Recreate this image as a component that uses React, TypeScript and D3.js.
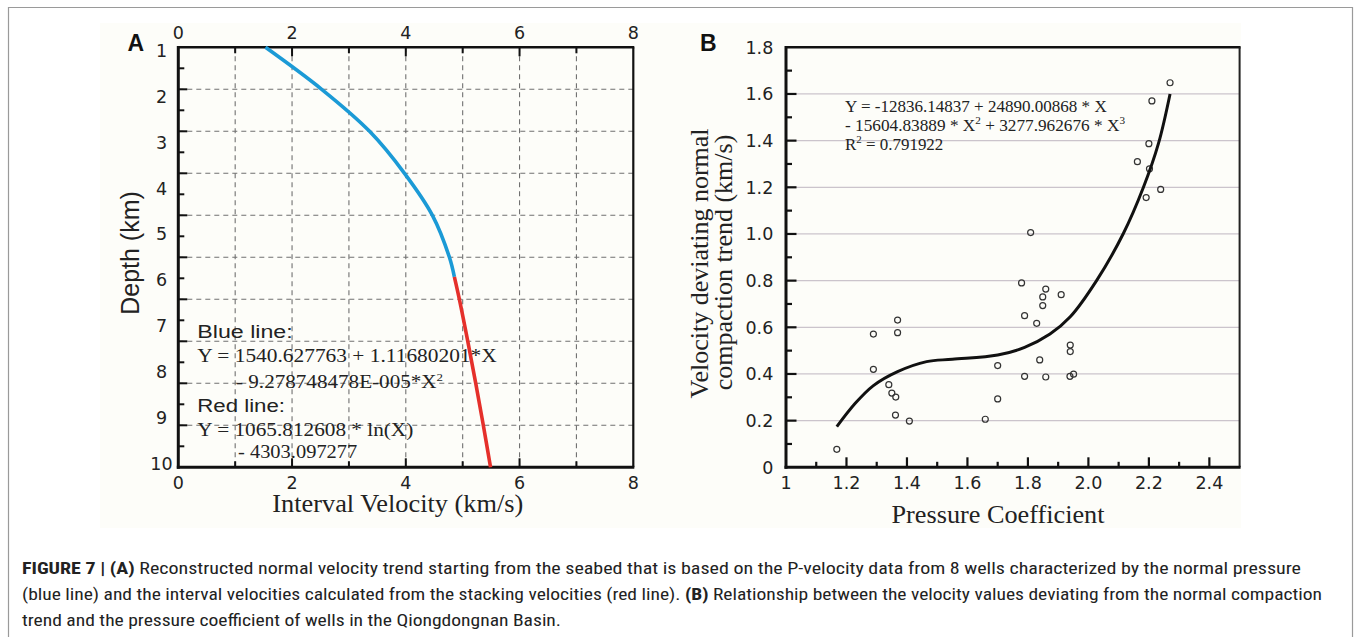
import React from "react";
import * as d3 from "d3";

const W = 1356;
const H = 637;

// ---------- Panel A data ----------
const velTickValues = [0, 2, 4, 6, 8];
const velGridValues = [1, 2, 3, 4, 5, 6, 7];
const depthTickValues = [1, 2, 3, 4, 5, 6, 7, 8, 9, 10];
const depthGridDivisions = [1, 2, 3, 4, 5, 6, 7, 8, 9];
const blueVelocity = [1.533, 2.521, 3.363, 3.977, 4.468, 4.767, 4.854];
const blueDepth = [1.0, 1.9, 2.8, 3.7, 4.6, 5.5, 5.92];
const redVelocity = [4.854, 4.942, 5.09, 5.23, 5.363, 5.49];
const redDepth = [5.92, 6.4, 7.3, 8.2, 9.1, 10.0];

// ---------- Panel B data ----------
const pcTickValues = [1, 1.2, 1.4, 1.6, 1.8, 2.0, 2.2, 2.4];
const pcTickLabels = ["1", "1.2", "1.4", "1.6", "1.8", "2.0", "2.2", "2.4"];
const devTickValues = [0, 0.2, 0.4, 0.6, 0.8, 1.0, 1.2, 1.4, 1.6, 1.8];
const devTickLabels = ["0", "0.2", "0.4", "0.6", "0.8", "1.0", "1.2", "1.4", "1.6", "1.8"];
const wellPressureCoef = [
  1.168, 1.289, 1.289, 1.369, 1.369, 1.34, 1.35, 1.363, 1.362, 1.408,
  1.779, 1.859, 1.849, 1.91, 1.849, 1.789, 1.829, 1.94, 1.94, 1.839, 1.7, 1.789, 1.859, 1.939, 1.951, 1.7, 1.659,
  2.27, 2.21, 2.2, 2.162, 2.202, 2.239, 2.191, 1.809,
];
const wellVelocityDev = [
  0.077, 0.571, 0.42, 0.631, 0.577, 0.354, 0.318, 0.301, 0.224, 0.198,
  0.79, 0.764, 0.73, 0.74, 0.693, 0.65, 0.617, 0.524, 0.496, 0.46, 0.436, 0.39, 0.387, 0.39, 0.399, 0.293, 0.206,
  1.648, 1.57, 1.387, 1.31, 1.279, 1.191, 1.156, 1.006,
];
const fitPressureCoef = [1.168, 1.229, 1.289, 1.369, 1.465, 1.55, 1.7, 1.789, 1.873, 1.94, 2.027, 2.116, 2.182, 2.232, 2.27];
const fitVelocityDev = [0.174, 0.274, 0.35, 0.41, 0.453, 0.463, 0.481, 0.514, 0.571, 0.645, 0.8, 1.003, 1.2, 1.389, 1.6];

const SERIF = "'Liberation Serif', 'Times New Roman', serif";
const SANS = "'Liberation Sans', Arial, sans-serif";
const TICKFONT = "'DejaVu Sans', 'Liberation Sans', Arial, sans-serif";
const CAPFONT = "'Liberation Sans Narrow', 'Arial Narrow', 'Roboto Condensed', 'Liberation Sans', sans-serif";

export default function App() {
  // Panel A scales
  const xA = d3.scaleLinear().domain([0, 8]).range([178.3, 633.3]);
  const yA = d3.scaleLinear().domain([1, 10]).range([47.3, 467.3]);
  const yALabel = d3.scaleLinear().domain([1, 10]).range([50.5, 463.5]);
  const gA = d3.scaleLinear().domain([0, 10]).range([47.3, 467.3]);

  // Panel B scales
  const xB = d3.scaleLinear().domain([1, 2.5]).range([786, 1239.6]);
  const yB = d3.scaleLinear().domain([0, 1.8]).range([467.3, 47.3]);

  const lineA = (vs: number[], ds: number[]) =>
    d3
      .line<number>()
      .x((i) => xA(vs[i]))
      .y((i) => yA(ds[i]))
      .curve(d3.curveCatmullRom)(d3.range(vs.length)) || "";

  const fitPath =
    d3
      .line<number>()
      .x((i) => xB(fitPressureCoef[i]))
      .y((i) => yB(fitVelocityDev[i]))
      .curve(d3.curveCatmullRom)(d3.range(fitPressureCoef.length)) || "";

  const [ax0, ax1] = xA.range();
  const [ay0, ay1] = yA.range();
  const [bx0, bx1] = xB.range();
  const by0 = yB(1.8);
  const by1 = yB(0);

  const gridStroke = "#707070";
  const dash = "5,4";

  const aLeftTicks = d3.range(1, 20).map((k) => k / 2);
  const aVelTicks = d3.range(1, 8);
  const bXTicks = d3.range(1, 15);
  const bYTicks = d3.range(1, 18);

  const sup = (s: string) => (
    <tspan fontSize="11" dy="-7">{s}</tspan>
  );

  return (
    <svg
      width={W}
      height={H}
      viewBox={`0 0 ${W} ${H}`}
      style={{ position: "absolute", left: 0, top: 0, background: "#ffffff" }}
    >
      <rect x={0} y={0} width={W} height={H} fill="#ffffff" />
      <rect x={100} y={23} width={1141} height={505} fill="#fdfdf9" />
      {/* frame */}
      <path d={`M8.5,${H + 2} V7.5 H1352.5 V${H + 2}`} fill="none" stroke="#9a9a9a" strokeWidth={1.2} />

      {/* ================= Panel A ================= */}
      <g>
        {velGridValues.map((v) => (
          <line key={"vg" + v} x1={xA(v)} x2={xA(v)} y1={ay0} y2={ay1} stroke={gridStroke} strokeWidth={1.1} strokeDasharray={dash} />
        ))}
        {depthGridDivisions.map((k) => (
          <line key={"hg" + k} x1={ax0} x2={ax1} y1={gA(k)} y2={gA(k)} stroke={gridStroke} strokeWidth={1.1} strokeDasharray={dash} />
        ))}
        {/* ticks */}
        {aLeftTicks.map((k) => (
          <line key={"lt" + k} x1={ax0} x2={ax0 + (Number.isInteger(k) ? 9 : 6)} y1={gA(k)} y2={gA(k)} stroke="#111" strokeWidth={2} />
        ))}
        {aVelTicks.map((v) => (
          <g key={"vt" + v}>
            <line x1={xA(v)} x2={xA(v)} y1={ay0} y2={ay0 + (v % 2 === 0 ? 9 : 6)} stroke="#111" strokeWidth={2} />
            <line x1={xA(v)} x2={xA(v)} y1={ay1} y2={ay1 - (v % 2 === 0 ? 9 : 6)} stroke="#111" strokeWidth={2} />
          </g>
        ))}
        {/* axes */}
        <line x1={ax0} x2={ax1 + 1} y1={ay0} y2={ay0} stroke="#111" strokeWidth={2.6} />
        <line x1={ax1} x2={ax1} y1={ay0} y2={ay1} stroke="#111" strokeWidth={2.2} />
        <line x1={ax0 - 1.5} x2={ax1 + 1} y1={ay1} y2={ay1} stroke="#111" strokeWidth={3} />
        <line x1={ax0} x2={ax0} y1={ay0 - 1.3} y2={ay1 + 1.5} stroke="#111" strokeWidth={3} />

        {/* curves */}
        <path d={lineA(blueVelocity, blueDepth)} fill="none" stroke="#1b9ad6" strokeWidth={3.6} />
        <path d={lineA(redVelocity, redDepth)} fill="none" stroke="#e5302b" strokeWidth={3.6} />

        {/* tick labels */}
        {velTickValues.map((v) => (
          <text key={"tl" + v} x={xA(v)} y={39} textAnchor="middle" fontFamily={TICKFONT} fontSize={17.5} fill="#222">{v}</text>
        ))}
        {velTickValues.map((v) => (
          <text key={"bl" + v} x={xA(v)} y={489} textAnchor="middle" fontFamily={TICKFONT} fontSize={17.5} fill="#222">{v}</text>
        ))}
        {depthTickValues.map((d) => (
          <text key={"dl" + d} x={161.5} y={yALabel(d) + 6.4} textAnchor="middle" fontFamily={TICKFONT} fontSize={17.5} fill="#222">{d}</text>
        ))}

        {/* titles */}
        <text x={127.5} y={51} fontFamily={SANS} fontWeight="bold" fontSize={23} fill="#111">A</text>
        <text transform="translate(139,253) rotate(-90)" textAnchor="middle" fontFamily={SANS} fontSize={25} fill="#222">Depth (km)</text>
        <text x={397.8} y={512.3} textAnchor="middle" fontFamily={SERIF} fontSize={25} fill="#222" textLength={251} lengthAdjust="spacingAndGlyphs">Interval Velocity (km/s)</text>

        {/* equations */}
        <text x={197.3} y={337.7} fontFamily={SANS} fontSize={18} fill="#222" textLength={95.4} lengthAdjust="spacingAndGlyphs">Blue line:</text>
        <text x={197.3} y={361.7} fontFamily={SERIF} fontSize={18} fill="#222" textLength={299.4} lengthAdjust="spacingAndGlyphs">Y = 1540.627763 + 1.11680201*X</text>
        <text x={236} y={387.7} fontFamily={SERIF} fontSize={18} fill="#222" textLength={207} lengthAdjust="spacingAndGlyphs">
          - 9.278748478E-005*X{sup("2")}
        </text>
        <text x={197.3} y={411.7} fontFamily={SANS} fontSize={18} fill="#222" textLength={87.7} lengthAdjust="spacingAndGlyphs">Red line:</text>
        <text x={197.3} y={436} fontFamily={SERIF} fontSize={18} fill="#222" textLength={216} lengthAdjust="spacingAndGlyphs">Y = 1065.812608 * ln(X)</text>
        <text x={238} y={458.3} fontFamily={SERIF} fontSize={18} fill="#222" textLength={119.3} lengthAdjust="spacingAndGlyphs">- 4303.097277</text>
      </g>

      {/* ================= Panel B ================= */}
      <g>
        {devTickValues.filter((v) => v > 0 && v < 1.8).map((v) => (
          <line key={"bg" + v} x1={bx0} x2={bx1} y1={yB(v)} y2={yB(v)} stroke="#cbc4cc" strokeWidth={1.2} />
        ))}
        {bXTicks.map((k) => (
          <line key={"bx" + k} x1={xB(1 + k / 10)} x2={xB(1 + k / 10)} y1={by1} y2={by1 - (k % 2 === 0 ? 10 : 5.5)} stroke="#111" strokeWidth={2.2} />
        ))}
        {bYTicks.map((k) => (
          <line key={"by" + k} x1={bx0} x2={bx0 + (k % 2 === 0 ? 10.5 : 6)} y1={yB(k / 10)} y2={yB(k / 10)} stroke="#111" strokeWidth={2.2} />
        ))}
        <line x1={bx0} x2={bx1 + 1} y1={by0} y2={by0} stroke="#111" strokeWidth={2.6} />
        <line x1={bx1} x2={bx1} y1={by0} y2={by1} stroke="#222" strokeWidth={2} />
        <line x1={bx0 - 1.5} x2={bx1 + 1} y1={by1} y2={by1} stroke="#111" strokeWidth={3} />
        <line x1={bx0} x2={bx0} y1={by0 - 1.3} y2={by1 + 1.5} stroke="#111" strokeWidth={3} />

        {wellPressureCoef.map((p, i) => (
          <circle key={"pt" + i} cx={xB(p)} cy={yB(wellVelocityDev[i])} r={3} fill="none" stroke="#333" strokeWidth={1.2} />
        ))}
        <path d={fitPath} fill="none" stroke="#111" strokeWidth={3} />

        {pcTickValues.map((v, i) => (
          <text key={"px" + i} x={xB(v)} y={488.5} textAnchor="middle" fontFamily={TICKFONT} fontSize={17.5} fill="#222">{pcTickLabels[i]}</text>
        ))}
        {devTickValues.map((v, i) => (
          <text key={"py" + i} x={773.3} y={yB(v) + 6.4} textAnchor="end" fontFamily={TICKFONT} fontSize={17.5} fill="#222">{devTickLabels[i]}</text>
        ))}

        <text x={700} y={51} fontFamily={SANS} fontWeight="bold" fontSize={23} fill="#111">B</text>
        <text transform="translate(708,263.5) rotate(-90)" textAnchor="middle" fontFamily={SERIF} fontSize={26} fill="#222">Velocity deviating normal</text>
        <text transform="translate(731.7,262.5) rotate(-90)" textAnchor="middle" fontFamily={SERIF} fontSize={26} fill="#222">compaction trend (km/s)</text>
        <text x={998} y={523.3} textAnchor="middle" fontFamily={SERIF} fontSize={26} fill="#222" textLength={213} lengthAdjust="spacingAndGlyphs">Pressure Coefficient</text>

        <text x={845} y={111.7} fontFamily={SERIF} fontSize={17} fill="#222" textLength={261.7} lengthAdjust="spacingAndGlyphs">Y = -12836.14837 + 24890.00868 * X</text>
        <text x={845} y={131} fontFamily={SERIF} fontSize={17} fill="#222" textLength={280} lengthAdjust="spacingAndGlyphs">
          - 15604.83889 * X{sup("2")}<tspan dy="7"> + 3277.962676 * X</tspan>{sup("3")}
        </text>
        <text x={845} y={150} fontFamily={SERIF} fontSize={17} fill="#222" textLength={98.3} lengthAdjust="spacingAndGlyphs">
          R{sup("2")}<tspan dy="7"> = 0.791922</tspan>
        </text>
      </g>

      {/* ================= Caption ================= */}
      <g fontFamily={CAPFONT} fontSize={16} fill="#222">
        <text x={22} y={574} textLength={1279} lengthAdjust="spacingAndGlyphs">
          <tspan fontWeight="bold">FIGURE 7 | (A)</tspan> Reconstructed normal velocity trend starting from the seabed that is based on the P-velocity data from 8 wells characterized by the normal pressure
        </text>
        <text x={22} y={600} textLength={1300} lengthAdjust="spacingAndGlyphs">
          (blue line) and the interval velocities calculated from the stacking velocities (red line). <tspan fontWeight="bold">(B)</tspan> Relationship between the velocity values deviating from the normal compaction
        </text>
        <text x={22} y={626} textLength={539} lengthAdjust="spacingAndGlyphs">
          trend and the pressure coefficient of wells in the Qiongdongnan Basin.
        </text>
      </g>
    </svg>
  );
}
